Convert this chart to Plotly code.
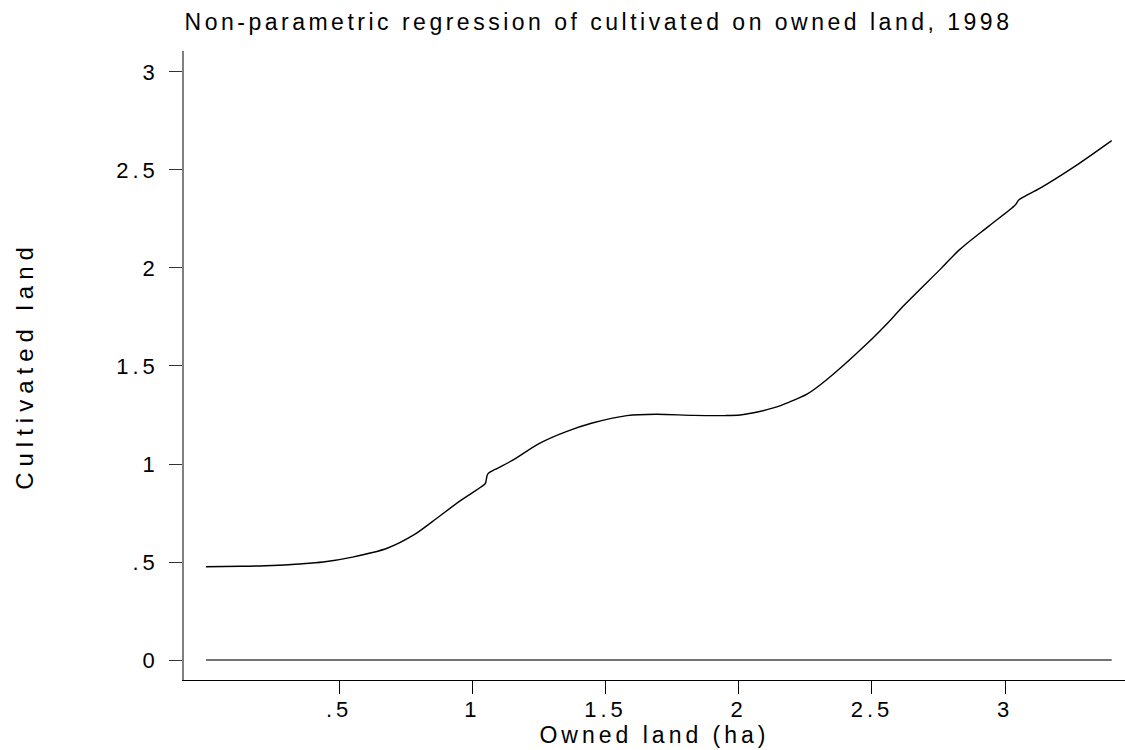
import plotly.graph_objects as go

# Data
owned_land = [0.00, 0.13, 0.25, 0.35, 0.44, 0.55, 0.68, 0.78, 0.85, 0.95,
              1.045, 1.050, 1.058, 1.085, 1.15, 1.25, 1.35, 1.45, 1.58, 1.69,
              1.83, 1.95, 2.005, 2.07, 2.13, 2.19, 2.256, 2.33, 2.48,
              2.57, 2.61, 2.76, 2.83, 2.94, 3.038, 3.051, 3.08, 3.13, 3.26,
              3.40]
cultivated_land = [0.476, 0.478, 0.482, 0.490, 0.500, 0.525, 0.570, 0.638, 0.706, 0.808,
                   0.895, 0.905, 0.950, 0.972, 1.018, 1.104, 1.164, 1.209, 1.247, 1.254,
                   1.248, 1.247, 1.250, 1.265, 1.286, 1.316, 1.356, 1.430, 1.612,
                   1.735, 1.795, 1.998, 2.095, 2.215, 2.321, 2.347, 2.370, 2.406, 2.517,
                   2.650]
zero_x = [0.0, 3.40]
zero_y = [0.0, 0.0]

x_tick_vals = [0.5, 1, 1.5, 2, 2.5, 3]
x_tick_text = [".5", "1", "1.5", "2", "2.5", "3"]
y_tick_vals = [0, 0.5, 1, 1.5, 2, 2.5, 3]
y_tick_text = ["0", ".5", "1", "1.5", "2", "2.5", "3"]

title_text = "Non-parametric regression of cultivated on owned land, 1998"
x_title = "Owned land (ha)"
y_title = "Cultivated land"

FONT = "Liberation Sans, Arial, sans-serif"


def spaced(s, px):
    return f'<span style="letter-spacing:{px}px">{s}</span>'


fig = go.Figure()
fig.add_trace(go.Scatter(x=zero_x, y=zero_y, mode="lines",
                         line=dict(color="#444444", width=1.3),
                         hoverinfo="skip", showlegend=False))
fig.add_trace(go.Scatter(x=owned_land, y=cultivated_land, mode="lines",
                         line=dict(color="#000000", width=1.4, shape="spline", smoothing=0.8),
                         showlegend=False))

fig.update_layout(
    width=1125, height=750,
    paper_bgcolor="white", plot_bgcolor="white",
    margin=dict(l=184, r=0, t=51, b=70, autoexpand=False),
    font=dict(family=FONT, color="black", size=22),
    title=dict(text=spaced(title_text, 3.5), x=0.532, xanchor="center",
               y=0.971, yanchor="middle",
               font=dict(size=23, family=FONT, color="black")),
    xaxis=dict(range=[-0.0825, 3.45], showgrid=False, zeroline=False,
               showline=True, linecolor="black", linewidth=1.3,
               ticks="outside", ticklen=13, tickcolor="black", tickwidth=1.2,
               tickvals=x_tick_vals,
               ticktext=[spaced(t, 4) for t in x_tick_text],
               tickfont=dict(size=22, family=FONT),
               ticklabelstandoff=-4,
               title=dict(text=spaced(x_title, 4), standoff=0,
                          font=dict(size=23, family=FONT))),
    yaxis=dict(range=[-0.102, 3.107], showgrid=False, zeroline=False,
               showline=True, linecolor="#808080", linewidth=1.6,
               ticks="outside", ticklen=13, tickcolor="#333333", tickwidth=1.2,
               tickvals=y_tick_vals,
               ticktext=[spaced(t, 4) for t in y_tick_text],
               tickfont=dict(size=22, family=FONT),
               ticklabelstandoff=6,
               title=dict(text=spaced(y_title, 6), standoff=76,
                          font=dict(size=24, family=FONT))),
)

fig.write_html("out.html", config={"displayModeBar": False},
               post_script="document.body.style.margin='0';")
